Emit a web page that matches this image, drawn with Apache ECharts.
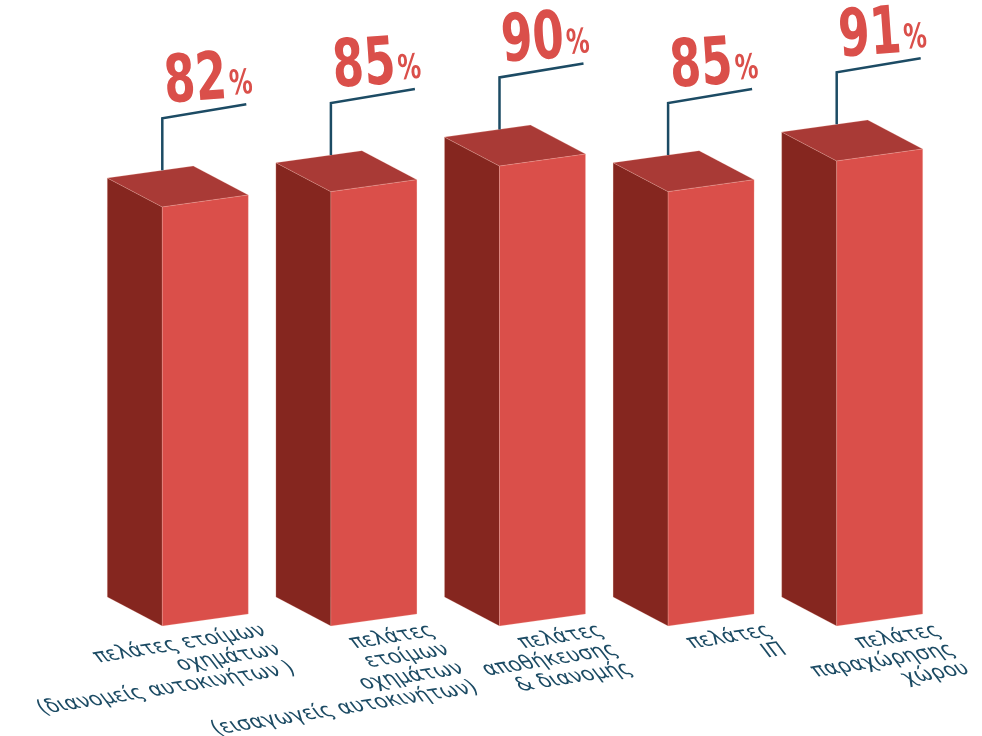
<!DOCTYPE html>
<html>
<head>
<meta charset="utf-8">
<script src="https://cdn.jsdelivr.net/npm/echarts@6/dist/echarts.min.js"></script>
<style>
  html, body { margin: 0; padding: 0; background: #fff; }
  #chart { width: 982px; height: 736px; }
</style>
</head>
<body>
<div id="chart"></div>
<script>
var categories = [
    'πελάτες ετοίμων\nοχημάτων\n(διανομείς αυτοκινήτων )',
    'πελάτες\nετοίμων\nοχημάτων\n(εισαγωγείς αυτοκινήτων)',
    'πελάτες\nαποθήκευσης\n& διανομής',
    'πελάτες\nΙΠ',
    'πελάτες\nπαραχώρησης\nχώρου'
];
var values = [82, 85, 90, 85, 91];

var FRONT = '#da4f4a';
var SIDE = '#85261f';
var TOP = '#a93a36';
var INK = '#1c4b64';
var NUM_FONT = '"Liberation Sans Narrow", "DejaVu Sans Condensed", sans-serif';
var NUM_SCALE = 0.76;

// width of the number, used to place the smaller % sign after it
var measureCtx = document.createElement('canvas').getContext('2d');
measureCtx.font = 'bold 66px ' + NUM_FONT;

function renderBox(params, api) {
    var i = api.value(0);
    var v = api.value(1);
    var base = api.coord([i, 0]);
    var top = api.coord([i, v]);
    var h = base[1] - top[1];
    var W = 86, S = 12, DX = -55, DY = -29; // front width, skew, depth
    var xl = base[0] - W / 2, xr = base[0] + W / 2;
    var yb = base[1];
    var fbl = [xl, yb], fbr = [xr, yb - S];
    var ftl = [xl, yb - h], ftr = [xr, yb - S - h];
    function d(p) { return [p[0] + DX, p[1] + DY]; }
    var edge = 'rgba(255,200,190,0.35)';

    // leader line from the back edge of the top face
    var lx = xl;
    var ly = ftl[1] + DY - S * (-DX) / W;
    var ty = ly - 52;
    var numW = measureCtx.measureText(String(v)).width * NUM_SCALE;

    return {
        type: 'group',
        children: [
            {
                type: 'polygon',
                shape: { points: [ftl, fbl, d(fbl), d(ftl)] },
                style: { fill: SIDE, stroke: edge, lineWidth: 0.6 }
            },
            {
                type: 'polygon',
                shape: { points: [ftl, ftr, d(ftr), d(ftl)] },
                style: { fill: TOP, stroke: edge, lineWidth: 0.6 }
            },
            {
                type: 'polygon',
                shape: { points: [fbl, fbr, ftr, ftl] },
                style: { fill: FRONT, stroke: edge, lineWidth: 0.6 }
            },
            {
                type: 'polyline',
                shape: { points: [[lx, ly], [lx, ty], [lx + 84, ty - 14]] },
                style: { stroke: INK, lineWidth: 2.5, fill: null }
            },
            {
                type: 'group',
                x: lx + 2,
                y: ty - 33,
                rotation: 0.07,
                children: [
                    {
                        type: 'text',
                        x: 0,
                        y: 0,
                        scaleX: NUM_SCALE,
                        style: {
                            text: String(v),
                            align: 'left',
                            verticalAlign: 'middle',
                            fontFamily: NUM_FONT,
                            fontWeight: 'bold',
                            fontSize: 66,
                            fill: FRONT
                        }
                    },
                    {
                        type: 'text',
                        x: numW + 2,
                        y: 5,
                        scaleX: NUM_SCALE,
                        style: {
                            text: '%',
                            align: 'left',
                            verticalAlign: 'middle',
                            fontFamily: NUM_FONT,
                            fontWeight: 'bold',
                            fontSize: 34,
                            fill: FRONT
                        }
                    }
                ]
            },
            {
                type: 'text',
                x: xr + 9,
                y: fbr[1] + 7,
                rotation: 0.16,
                skewX: 0.49,
                style: {
                    text: categories[i],
                    align: 'right',
                    verticalAlign: 'top',
                    fontFamily: '"DejaVu Sans", sans-serif',
                    fontSize: 20,
                    lineHeight: 21,
                    fill: INK
                }
            }
        ]
    };
}

var chart = echarts.init(document.getElementById('chart'));
chart.setOption({
    animation: false,
    backgroundColor: '#ffffff',
    grid: { left: 121, right: 18, top: 115, bottom: 110 },
    xAxis: {
        type: 'category',
        data: categories,
        show: false
    },
    yAxis: {
        type: 'value',
        min: 0,
        max: 100,
        show: false
    },
    series: [{
        type: 'custom',
        renderItem: renderBox,
        data: values.map(function (v, i) { return [i, v]; }),
        encode: { x: 0, y: 1 }
    }]
});
</script>
</body>
</html>
